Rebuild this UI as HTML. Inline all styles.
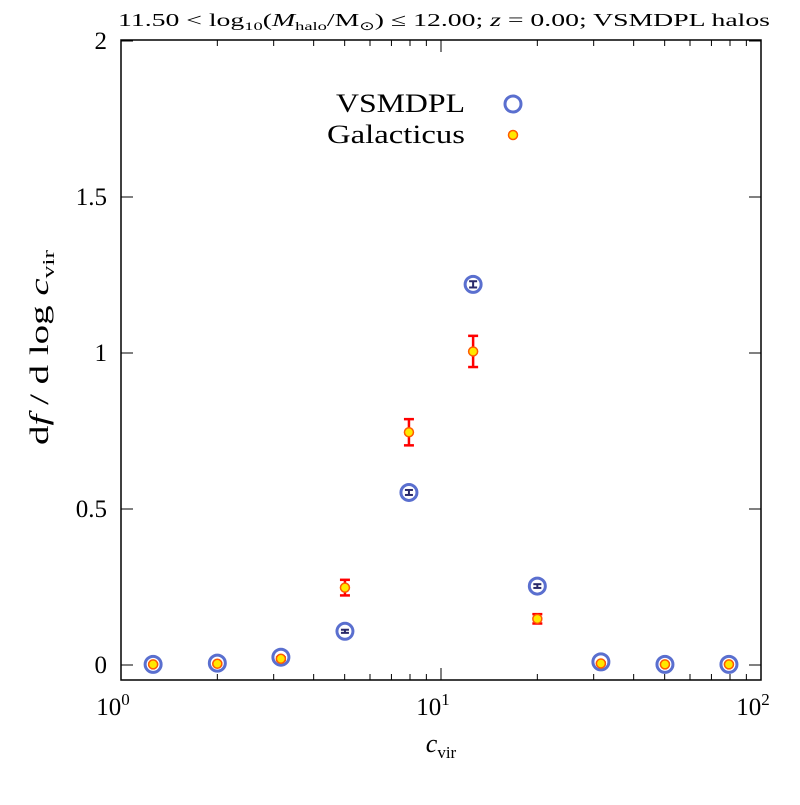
<!DOCTYPE html>
<html><head><meta charset="utf-8"><style>
body{margin:0;background:#fff}
svg text{font-family:"Liberation Serif",serif;fill:#000}
</style></head><body>
<svg id="c" width="800" height="800" xmlns="http://www.w3.org/2000/svg"></svg>
<script>
const categories=[1.26,2.0,3.16,5.01,7.94,12.6,20.0,31.6,50.1,79.4];
const vsmdplValues=[0.002,0.006,0.025,0.108,0.553,1.22,0.253,0.01,0.002,0.002];
const vsmdplErrors=[0.001,0.002,0.003,0.005,0.008,0.01,0.006,0.002,0.001,0.001];
const galValues=[0.002,0.004,0.02,0.248,0.746,1.005,0.148,0.005,0.002,0.002];
const galErrors=[0.001,0.002,0.004,0.025,0.042,0.05,0.015,0.002,0.001,0.001];
const yTicks=[0,0.5,1,1.5,2];
const yTickLabels=["0","0.5","1","1.5","2"];
const xTicks=[1,10,100];
const L=121,R=761,T=40,B=680;
const X=v=>L+(R-L)*Math.log10(v)/2;
const Y=v=>665-v*312;
const svg=document.getElementById('c');
const NS='http://www.w3.org/2000/svg';
function mk(t,a,p){const e=document.createElementNS(NS,t);for(const k in a)e.setAttribute(k,a[k]);(p||svg).appendChild(e);return e;}
let fr=mk('rect',{x:L,y:T,width:R-L,height:B-T,fill:'none',stroke:'#000','stroke-width':1.5});


yTicks.forEach((v,i)=>{const y=Y(v);
 mk('line',{x1:L,x2:L+12,y1:y,y2:y,stroke:'#000'});mk('line',{x1:R,x2:R-12,y1:y,y2:y,stroke:'#000'});
 const t=mk('text',{x:L-14,y:y+8,'text-anchor':'end','font-size':25});t.textContent=yTickLabels[i];
 
 });
xTicks.forEach(v=>{const x=X(v);
 mk('line',{x1:x,x2:x,y1:B,y2:B-12,stroke:'#000'});mk('line',{x1:x,x2:x,y1:T,y2:T+12,stroke:'#000'});
 const t=mk('text',{x:x-8,y:B+35,'text-anchor':'middle','font-size':25});t.innerHTML='10<tspan dy="-10" font-size="17">'+Math.round(Math.log10(v))+'</tspan>';
 
 });
[1,10].forEach(d=>{for(let k=2;k<10;k++){const x=X(d*k);
 mk('line',{x1:x,x2:x,y1:B,y2:B-6,stroke:'#000'});mk('line',{x1:x,x2:x,y1:T,y2:T+6,stroke:'#000'});}});
let tt=mk('text',{x:118,y:26,'font-size':18,textLength:652,lengthAdjust:'spacingAndGlyphs'});
tt.innerHTML='11.50 &lt; log<tspan dy="4" font-size="12">10</tspan><tspan dy="-4">(</tspan><tspan font-style="italic">M</tspan><tspan dy="4" font-size="12">halo</tspan><tspan dy="-4">/M</tspan><tspan dy="4" font-size="12">⊙</tspan><tspan dy="-4">) ≤ 12.00; </tspan><tspan font-style="italic">z</tspan> = 0.00; VSMDPL halos';


let xl=mk('text',{x:441,y:752,'text-anchor':'middle','font-size':26});
xl.innerHTML='<tspan font-style="italic">c</tspan><tspan dy="6" font-size="17">vir</tspan>';


let yl=mk('text',{x:-95,y:0,'font-size':26,textLength:195,lengthAdjust:'spacingAndGlyphs',transform:'translate(48,350) rotate(-90)'});
yl.innerHTML='d<tspan font-style="italic">f</tspan> / d log <tspan font-style="italic">c</tspan><tspan dy="6" font-size="17">vir</tspan>';


let l1=mk('text',{x:336,y:112,'font-size':26,textLength:129,lengthAdjust:'spacingAndGlyphs'});l1.textContent='VSMDPL';


mk('circle',{cx:513,cy:104,r:8,fill:'none',stroke:'#5a6fcf','stroke-width':3});
let l2=mk('text',{x:327,y:143,'font-size':26,textLength:138,lengthAdjust:'spacingAndGlyphs'});l2.textContent='Galacticus';


mk('circle',{cx:513,cy:135,r:4.5,fill:'#ffe800',stroke:'#ff5a00','stroke-width':1.5});
categories.forEach((c,i)=>{const x=X(c),y=Y(vsmdplValues[i]);
 const g=mk('g',{});
 
 
 mk('circle',{cx:x,cy:y,r:8,fill:'#fff',stroke:'#5a6fcf','stroke-width':3},g);
 const y1=Y(vsmdplValues[i]+vsmdplErrors[i]),y2=Y(vsmdplValues[i]-vsmdplErrors[i]);
 mk('line',{x1:x,x2:x,y1:y1,y2:y2,stroke:'#2a2a6a','stroke-width':2},g);
 mk('line',{x1:x-4,x2:x+4,y1:y1,y2:y1,stroke:'#2a2a6a','stroke-width':2},g);
 mk('line',{x1:x-4,x2:x+4,y1:y2,y2:y2,stroke:'#2a2a6a','stroke-width':2},g);});
categories.forEach((c,i)=>{const x=X(c),y=Y(galValues[i]);
 const g=mk('g',{});
 
 
 const y1=Y(galValues[i]+galErrors[i]),y2=Y(galValues[i]-galErrors[i]);
 mk('line',{x1:x,x2:x,y1:y1,y2:y2,stroke:'#ff0000','stroke-width':2.5},g);
 mk('line',{x1:x-5,x2:x+5,y1:y1,y2:y1,stroke:'#ff0000','stroke-width':2.5},g);
 mk('line',{x1:x-5,x2:x+5,y1:y2,y2:y2,stroke:'#ff0000','stroke-width':2.5},g);
 mk('circle',{cx:x,cy:y,r:4.5,fill:'#ffe800',stroke:'#ff5a00','stroke-width':1.5},g);});
</script>
</body></html>
